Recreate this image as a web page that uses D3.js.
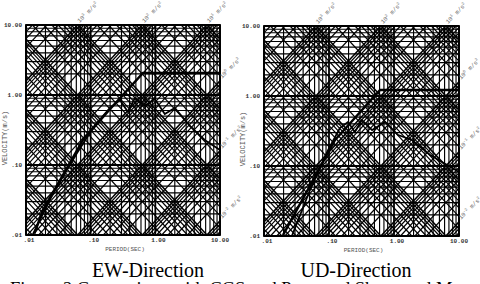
<!DOCTYPE html>
<html><head><meta charset="utf-8">
<script src="https://cdn.jsdelivr.net/npm/d3@7"></script>
<style>body{margin:0;background:#fff}</style>
</head><body><svg id="c" width="480" height="284"></svg>
<script>
// ---- data ----
const tickValues = [0.01, 0.1, 1, 10];
const xTickLabels = [".01", ".10", "1.00", "10.00"];
const yTickLabels = [".01", ".10", "1.00", "10.00"];
const gridMultipliers = [1, 2, 3, 4, 5, 6, 7, 8, 9];
const axisDecades = [-2, -1, 0];
const accelDecades = [-3, -2, -1, 0, 1, 2, 3];
const dispDecades = [-5, -4, -3, -2, -1, 0, 1];
const accelLabelExponents = [3, 2, 1, 0, -1, -2];
const panelTitles = ["EW-Direction", "UD-Direction"];
const captionText = "Figure 2 Comparison with CGS and Proposed Shape and Magnitude";

const ewDesignT = [0.0135, 0.0183, 0.076, 0.2, 0.644, 10];
const ewDesignV = [0.0105, 0.0228, 0.228, 0.63, 2.06, 2.06];
const ewObsT = [0.0128, 0.028, 0.0615, 0.117, 0.199, 0.284, 0.377, 0.483, 0.69, 0.98, 1.40, 2.0, 3.44, 5.8, 10];
const ewObsV = [0.0103, 0.044, 0.148, 0.372, 0.652, 0.849, 0.572, 0.906, 0.697, 0.877, 0.535, 0.652, 0.36, 0.228, 0.164];

const udDesignT = [0.0196, 0.124, 0.61, 10];
const udDesignV = [0.0103, 0.235, 1.22, 1.22];
const udObsT = [0.027, 0.051, 0.0966, 0.147, 0.196, 0.25, 0.32, 0.46, 0.73, 1.16, 1.89, 3.6, 10];
const udObsV = [0.0101, 0.0454, 0.169, 0.349, 0.425, 0.306, 0.454, 0.326, 0.425, 0.277, 0.235, 0.144, 0.082];

// ---- layout ----
const panels = [
  {x0: 26, x1: 220, y0: 25, y1: 235, dT: ewDesignT, dV: ewDesignV, oT: ewObsT, oV: ewObsV, title: panelTitles[0], tx: 148},
  {x0: 264, x1: 459, y0: 26, y1: 236, dT: udDesignT, dV: udDesignV, oT: udObsT, oV: udObsV, title: panelTitles[1], tx: 356}
];
const svg = d3.select("#c");
svg.append("rect").attr("width", 480).attr("height", 284).attr("fill", "#fff");
const TWO_PI = 2 * Math.PI;
const Tmin = 0.01, Tmax = 10, Vmin = 0.01, Vmax = 10;

panels.forEach((p, pi) => {
  const x = d3.scaleLog().domain([Tmin, Tmax]).range([p.x0, p.x1]);
  const y = d3.scaleLog().domain([Vmin, Vmax]).range([p.y1, p.y0]);
  const g = svg.append("g");
  const grid = g.append("g").attr("stroke", "#000").attr("fill", "none");

  const vals = [];
  axisDecades.forEach(n => gridMultipliers.forEach(k => vals.push({v: k * Math.pow(10, n), major: k === 1})));
  vals.push({v: 10, major: true});

  vals.forEach(d => grid.append("line")
    .attr("x1", x(d.v)).attr("x2", x(d.v)).attr("y1", y(Vmin)).attr("y2", y(Vmax))
    .attr("stroke-width", d.major ? 1.8 : 1.15));
  vals.forEach(d => grid.append("line")
    .attr("y1", y(d.v)).attr("y2", y(d.v)).attr("x1", x(Tmin)).attr("x2", x(Tmax))
    .attr("stroke-width", d.major ? 1.8 : 1.15));

  accelDecades.forEach(n => gridMultipliers.forEach(k => {
    const A = k * Math.pow(10, n);
    const ta = Math.max(Tmin, TWO_PI * Vmin / A), tb = Math.min(Tmax, TWO_PI * Vmax / A);
    if (tb <= ta) return;
    grid.append("line")
      .attr("x1", x(ta)).attr("y1", y(A * ta / TWO_PI))
      .attr("x2", x(tb)).attr("y2", y(A * tb / TWO_PI))
      .attr("stroke-width", k === 1 ? 1.5 : 1.15);
  }));
  dispDecades.forEach(n => gridMultipliers.forEach(k => {
    const D = k * Math.pow(10, n);
    const ta = Math.max(Tmin, TWO_PI * D / Vmax), tb = Math.min(Tmax, TWO_PI * D / Vmin);
    if (tb <= ta) return;
    grid.append("line")
      .attr("x1", x(ta)).attr("y1", y(TWO_PI * D / ta))
      .attr("x2", x(tb)).attr("y2", y(TWO_PI * D / tb))
      .attr("stroke-width", k === 1 ? 1.5 : 1.15);
  }));

  g.append("rect").attr("x", p.x0).attr("y", p.y0).attr("width", p.x1 - p.x0).attr("height", p.y1 - p.y0)
    .attr("fill", "none").attr("stroke", "#000").attr("stroke-width", 1.8);

  const line = d3.line().x(d => x(d[0])).y(d => y(d[1]));
  g.append("path").datum(p.oT.map((t, i) => [t, p.oV[i]])).attr("d", line)
    .attr("fill", "none").attr("stroke", "#000").attr("stroke-width", 1.8);
  g.append("path").datum(p.dT.map((t, i) => [t, p.dV[i]])).attr("d", line)
    .attr("fill", "none").attr("stroke", "#000").attr("stroke-width", 2.4);

  const tickFont = "'Liberation Mono', 'DejaVu Sans Mono', monospace";
  tickValues.forEach((v, i) => {
    g.append("text").attr("x", x(v) + (i === 3 ? 0 : 3)).attr("y", p.y1 + 7)
      .attr("text-anchor", "middle").attr("font-family", tickFont).attr("font-size", 6)
      .attr("font-weight", "bold").attr("fill", "#333").text(xTickLabels[i]);
    g.append("text").attr("x", p.x0 - 4).attr("y", y(v) + 2)
      .attr("text-anchor", "end").attr("font-family", tickFont).attr("font-size", 6)
      .attr("font-weight", "bold").attr("fill", "#333").text(yTickLabels[i]);
  });
  g.append("text").attr("x", (p.x0 + p.x1) / 2 + 2).attr("y", p.y1 + 16)
    .attr("text-anchor", "middle").attr("font-family", tickFont).attr("font-size", 6)
    .attr("fill", "#555").text("PERIOD(SEC)");
  g.append("text").attr("transform", `translate(${p.x0 - 19},${(p.y0 + p.y1) / 2 + 8}) rotate(-90)`)
    .attr("text-anchor", "middle").attr("font-family", tickFont).attr("font-size", 7)
    .attr("fill", "#555").text("VELOCITY(m/s)");

  accelLabelExponents.forEach(e => {
    const A = Math.pow(10, e);
    const tb = Math.min(Tmax, TWO_PI * Vmax / A);
    const px = x(tb) + 2, py = y(A * tb / TWO_PI) - 2;
    const t = g.append("text").attr("transform", `translate(${px},${py}) rotate(-45)`)
      .attr("font-family", tickFont).attr("font-size", 6).attr("fill", "#666");
    t.append("tspan").text("10");
    t.append("tspan").attr("dy", -2.5).attr("font-size", 4).text(String(e));
    t.append("tspan").attr("dy", 2.5).text(" m/s");
    t.append("tspan").attr("dy", -2.5).attr("font-size", 4).text("2");
  });

  svg.append("text").attr("x", p.tx).attr("y", 277).attr("text-anchor", "middle")
    .attr("font-family", "'Liberation Serif', 'Times New Roman', serif").attr("font-size", 20)
    .attr("fill", "#000").text(p.title);
});

svg.append("text").attr("x", 10).attr("y", 295)
  .attr("font-family", "'Liberation Serif', 'Times New Roman', serif").attr("font-size", 18.5)
  .attr("fill", "#000").text(captionText);
</script></body></html>
